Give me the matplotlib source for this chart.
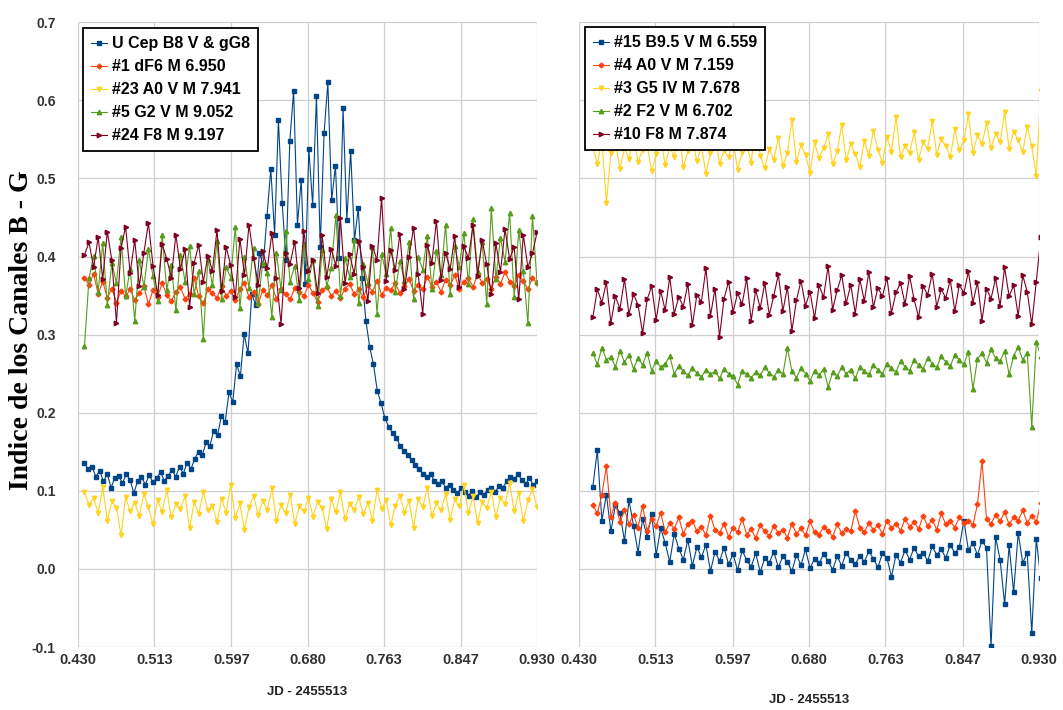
import numpy as np
import matplotlib
matplotlib.use("Agg")
import matplotlib.pyplot as plt

plt.rcParams['font.family'] = ['Liberation Sans', 'DejaVu Sans']

# time range of each night (JD - 2455513)
left_start, left_end = 0.437, 0.930
right_start, right_end = 0.445, 0.932

xticks = [0.430, 0.513, 0.597, 0.680, 0.763, 0.847, 0.930]
xtick_labels = ["0.430", "0.513", "0.597", "0.680", "0.763", "0.847", "0.930"]
yticks = [-0.1, 0.0, 0.1, 0.2, 0.3, 0.4, 0.5, 0.6, 0.7]

# Left panel: U Cep and comparison stars
left_labels = ["U Cep B8 V & gG8", "#1 dF6 M 6.950", "#23 A0 V M 7.941",
               "#5 G2 V M 9.052", "#24 F8 M 9.197"]

ucep = [0.135, 0.128, 0.131, 0.118, 0.126, 0.112, 0.122, 0.104, 0.117, 0.119,
        0.110, 0.121, 0.114, 0.097, 0.113, 0.118, 0.108, 0.120, 0.111, 0.116,
        0.124, 0.113, 0.119, 0.127, 0.118, 0.131, 0.122, 0.136, 0.128, 0.141,
        0.150, 0.146, 0.162, 0.158, 0.177, 0.171, 0.196, 0.188, 0.226, 0.214,
        0.262, 0.247, 0.301, 0.276, 0.352, 0.338, 0.405, 0.389, 0.452, 0.512,
        0.428, 0.575, 0.468, 0.395, 0.548, 0.612, 0.441, 0.498, 0.365, 0.538,
        0.466, 0.605, 0.412, 0.558, 0.623, 0.472, 0.516, 0.398, 0.590, 0.447,
        0.535, 0.421, 0.462, 0.372, 0.318, 0.284, 0.262, 0.228, 0.212, 0.193,
        0.182, 0.174, 0.168, 0.158, 0.151, 0.146, 0.139, 0.133, 0.128, 0.122,
        0.118, 0.121, 0.113, 0.109, 0.112, 0.104, 0.108, 0.101, 0.097, 0.103,
        0.099, 0.094, 0.100, 0.092, 0.098, 0.095, 0.101, 0.103, 0.099, 0.106,
        0.104, 0.112, 0.118, 0.115, 0.121, 0.114, 0.109, 0.116, 0.108, 0.112]

star1 = [0.372, 0.364, 0.378, 0.352, 0.368, 0.347, 0.359, 0.341, 0.356, 0.349,
         0.358, 0.344, 0.353, 0.362, 0.339, 0.357, 0.348, 0.366, 0.351, 0.343,
         0.355, 0.361, 0.346, 0.352, 0.372, 0.349, 0.340, 0.358, 0.353, 0.347,
         0.362, 0.350, 0.356, 0.344, 0.359, 0.366, 0.348, 0.354, 0.339, 0.357,
         0.351, 0.363, 0.346, 0.358, 0.352, 0.345, 0.360, 0.355, 0.349, 0.364,
         0.353, 0.342, 0.357, 0.361, 0.350, 0.356, 0.347, 0.359, 0.365, 0.352,
         0.358, 0.348, 0.363, 0.355, 0.369, 0.351, 0.360, 0.357, 0.366, 0.353,
         0.362, 0.371, 0.356, 0.364, 0.358, 0.374, 0.361, 0.367, 0.355, 0.370,
         0.363, 0.376, 0.359, 0.368, 0.372, 0.361, 0.378, 0.366, 0.371, 0.359,
         0.374, 0.365, 0.380, 0.368, 0.362, 0.376, 0.369, 0.358, 0.373, 0.366]

star23 = [0.098, 0.082, 0.091, 0.071, 0.105, 0.062, 0.087, 0.078, 0.043, 0.092,
          0.074, 0.085, 0.068, 0.096, 0.079, 0.057, 0.088, 0.073, 0.101, 0.066,
          0.083, 0.077, 0.093, 0.052, 0.086, 0.070, 0.099, 0.075, 0.081, 0.060,
          0.090, 0.072, 0.108, 0.065, 0.084, 0.050, 0.079, 0.094, 0.069, 0.087,
          0.076, 0.103, 0.061, 0.082, 0.071, 0.095, 0.058, 0.080, 0.074, 0.091,
          0.067, 0.086, 0.078, 0.051, 0.089, 0.073, 0.098, 0.064, 0.083, 0.076,
          0.092, 0.070, 0.085, 0.062, 0.101, 0.077, 0.088, 0.056, 0.081, 0.094,
          0.072, 0.087, 0.053, 0.090, 0.079, 0.104, 0.068, 0.084, 0.075, 0.096,
          0.063, 0.089, 0.080, 0.107, 0.071, 0.093, 0.059, 0.086, 0.078, 0.099,
          0.066, 0.091, 0.083, 0.110, 0.074, 0.097, 0.061, 0.088, 0.102, 0.079]

star5 = [0.285, 0.372, 0.401, 0.355, 0.417, 0.338, 0.392, 0.366, 0.425, 0.349,
         0.384, 0.318, 0.396, 0.361, 0.409, 0.375, 0.343, 0.428, 0.357, 0.389,
         0.331, 0.402, 0.368, 0.414, 0.352, 0.381, 0.295, 0.397, 0.363, 0.420,
         0.346, 0.386, 0.373, 0.438, 0.334, 0.399, 0.360, 0.411, 0.341, 0.392,
         0.379, 0.323, 0.405, 0.357, 0.433, 0.368, 0.388, 0.344, 0.416, 0.371,
         0.395, 0.337, 0.408, 0.362, 0.385, 0.453, 0.350, 0.398, 0.374, 0.421,
         0.340, 0.390, 0.366, 0.412, 0.327, 0.403, 0.378, 0.436, 0.355, 0.394,
         0.369, 0.418, 0.345, 0.400, 0.383, 0.426, 0.359, 0.407, 0.376, 0.441,
         0.352, 0.413, 0.387, 0.430, 0.365, 0.448, 0.380, 0.419, 0.339, 0.462,
         0.371, 0.424, 0.393, 0.456, 0.348, 0.434, 0.382, 0.315, 0.452, 0.367]

star24 = [0.402, 0.418, 0.386, 0.425, 0.371, 0.432, 0.395, 0.315, 0.411, 0.438,
          0.379, 0.421, 0.362, 0.405, 0.443, 0.388, 0.351, 0.416, 0.397, 0.373,
          0.428, 0.384, 0.409, 0.336, 0.392, 0.415, 0.367, 0.401, 0.382, 0.434,
          0.356, 0.412, 0.389, 0.348, 0.423, 0.376, 0.441, 0.398, 0.364, 0.407,
          0.385, 0.430, 0.372, 0.314, 0.404, 0.391, 0.419, 0.360, 0.433, 0.381,
          0.396, 0.353, 0.427, 0.374, 0.410, 0.388, 0.449, 0.366, 0.403, 0.378,
          0.420, 0.387, 0.343, 0.414, 0.395, 0.475, 0.369, 0.408, 0.383, 0.429,
          0.358, 0.400, 0.437, 0.377, 0.327, 0.415, 0.392, 0.446, 0.370, 0.405,
          0.384, 0.426, 0.361, 0.413, 0.398, 0.440, 0.375, 0.421, 0.390, 0.352,
          0.417, 0.380, 0.435, 0.397, 0.412, 0.345, 0.428, 0.386, 0.404, 0.431]

# Right panel: other comparison stars
right_labels = ["#15 B9.5 V M 6.559", "#4 A0 V M 7.159", "#3 G5 IV M 7.678",
                "#2 F2 V M 6.702", "#10 F8 M 7.874"]

star15 = [0.105, 0.152, 0.062, 0.095, 0.048, 0.082, 0.071, 0.036, 0.088, 0.055,
          0.021, 0.064, 0.041, 0.070, 0.018, 0.052, 0.033, 0.009, 0.045, 0.026,
          0.012, 0.037, 0.004, 0.028, 0.015, 0.031, -0.003, 0.022, 0.010, 0.027,
          0.006, 0.019, -0.002, 0.024, 0.011, 0.003, 0.020, -0.004, 0.014, 0.008,
          0.022, 0.002, 0.016, 0.009, -0.003, 0.018, 0.005, 0.025, 0.001, 0.013,
          0.007, 0.019, 0.010, -0.001, 0.016, 0.004, 0.021, 0.011, 0.006, 0.017,
          0.009, 0.023, 0.013, 0.002, 0.020, 0.014, -0.010, 0.018, 0.008, 0.024,
          0.012, 0.027, 0.016, 0.021, 0.010, 0.029, 0.018, 0.025, 0.014, 0.031,
          0.020, 0.028, 0.062, 0.024, 0.033, 0.018, 0.036, 0.027, -0.099, 0.041,
          0.012, -0.045, 0.030, -0.030, 0.046, 0.008, 0.020, -0.082, 0.038, -0.012]

star4 = [0.082, 0.071, 0.095, 0.132, 0.067, 0.084, 0.060, 0.075, 0.058, 0.069,
         0.053, 0.081, 0.049, 0.064, 0.055, 0.072, 0.047, 0.059, 0.051, 0.066,
         0.045, 0.057, 0.062, 0.048, 0.054, 0.043, 0.068, 0.050, 0.046, 0.058,
         0.041, 0.053, 0.047, 0.064, 0.044, 0.051, 0.039, 0.056, 0.048, 0.042,
         0.055, 0.046, 0.050, 0.040, 0.058, 0.045, 0.052, 0.043, 0.061, 0.047,
         0.044, 0.054, 0.049, 0.041, 0.057, 0.046, 0.051, 0.048, 0.074, 0.053,
         0.047, 0.059, 0.050, 0.056, 0.045, 0.062, 0.052, 0.058, 0.049, 0.064,
         0.054, 0.060, 0.051, 0.068, 0.055, 0.063, 0.050, 0.071, 0.057, 0.061,
         0.053, 0.066, 0.059, 0.062, 0.056, 0.083, 0.138, 0.064, 0.058, 0.069,
         0.061, 0.073, 0.057, 0.066, 0.062, 0.075, 0.059, 0.068, 0.060, 0.085]

star3 = [0.542, 0.518, 0.551, 0.468, 0.533, 0.547, 0.512, 0.539, 0.525, 0.556,
         0.521, 0.537, 0.544, 0.509, 0.531, 0.553, 0.517, 0.540, 0.528, 0.562,
         0.514, 0.535, 0.549, 0.522, 0.541, 0.506, 0.532, 0.558, 0.519, 0.536,
         0.527, 0.548, 0.511, 0.534, 0.545, 0.520, 0.570, 0.529, 0.513, 0.538,
         0.524, 0.552, 0.516, 0.533, 0.575, 0.521, 0.543, 0.530, 0.507, 0.546,
         0.526, 0.539, 0.557, 0.518, 0.535, 0.569, 0.523, 0.544, 0.531, 0.515,
         0.548, 0.529, 0.561, 0.537, 0.520, 0.553, 0.534, 0.579, 0.527, 0.542,
         0.532, 0.559, 0.524, 0.546, 0.538, 0.574, 0.530, 0.551, 0.541, 0.528,
         0.563, 0.536, 0.549, 0.582, 0.533, 0.555, 0.544, 0.571, 0.539, 0.557,
         0.547, 0.585, 0.538, 0.560, 0.549, 0.534, 0.566, 0.541, 0.503, 0.612]

star2 = [0.276, 0.262, 0.283, 0.268, 0.271, 0.259, 0.279, 0.265, 0.274, 0.256,
         0.270, 0.261, 0.277, 0.254, 0.266, 0.258, 0.263, 0.272, 0.250, 0.260,
         0.253, 0.248, 0.257, 0.251, 0.246, 0.255, 0.249, 0.253, 0.244, 0.256,
         0.250, 0.247, 0.236, 0.254, 0.249, 0.245, 0.252, 0.248, 0.258, 0.251,
         0.246, 0.255, 0.249, 0.283, 0.253, 0.245, 0.257, 0.250, 0.241, 0.254,
         0.248, 0.256, 0.233, 0.252, 0.247, 0.258, 0.250, 0.255, 0.244, 0.259,
         0.253, 0.249, 0.261, 0.255, 0.250, 0.263, 0.257, 0.252, 0.266, 0.259,
         0.254, 0.268, 0.261, 0.256, 0.270, 0.263, 0.258, 0.272, 0.265, 0.260,
         0.274, 0.267, 0.262, 0.278, 0.230, 0.269, 0.276, 0.264, 0.281, 0.270,
         0.266, 0.279, 0.249, 0.273, 0.284, 0.268, 0.277, 0.182, 0.291, 0.272]

star10 = [0.322, 0.358, 0.341, 0.367, 0.315, 0.349, 0.333, 0.371, 0.326, 0.352,
          0.338, 0.302, 0.345, 0.362, 0.319, 0.356, 0.331, 0.374, 0.327, 0.348,
          0.336, 0.365, 0.312, 0.351, 0.342, 0.385, 0.324, 0.359, 0.297, 0.346,
          0.368, 0.329, 0.353, 0.339, 0.372, 0.318, 0.357, 0.334, 0.366, 0.325,
          0.350, 0.377, 0.330, 0.361, 0.305, 0.344, 0.369, 0.337, 0.355, 0.321,
          0.363, 0.348, 0.388, 0.332, 0.357, 0.376, 0.340, 0.364, 0.327, 0.371,
          0.343, 0.380, 0.335, 0.360, 0.349, 0.373, 0.328, 0.354, 0.366, 0.339,
          0.375, 0.345, 0.322, 0.362, 0.351, 0.378, 0.336, 0.358, 0.347, 0.370,
          0.330, 0.364, 0.353, 0.381, 0.341, 0.367, 0.318, 0.359, 0.346, 0.372,
          0.337, 0.386, 0.349, 0.363, 0.324, 0.376, 0.355, 0.313, 0.368, 0.425]

colors = ["#004586", "#ff420e", "#ffd320", "#579d1c", "#7e0021"]
markers = ["s", "D", "v", "^", ">"]
msizes = [3.5, 2.5, 3.2, 3.2, 3.2]

fig = plt.figure(figsize=(10.63, 7.1), dpi=100)
ax1 = fig.add_axes([0.0734, 0.0887, 0.4318, 0.880])
ax2 = fig.add_axes([0.5447, 0.0887, 0.4327, 0.880])


def draw_panel(ax, start, end, series, labels):
    for vals, lab, c, m, ms in zip(series, labels, colors, markers, msizes):
        x = np.linspace(start, end, len(vals))
        ax.plot(x, vals, color=c, lw=0.8, marker=m, ms=ms, mec=c, mfc=c,
                label=lab)
    ax.set_xlim(0.430, 0.930)
    ax.set_ylim(-0.1, 0.7)
    ax.set_xticks(xticks)
    ax.set_xticklabels(xtick_labels)
    ax.set_yticks(yticks)
    ax.grid(True, color="#cfcfcf", lw=0.9)
    ax.set_axisbelow(True)
    for s in ax.spines.values():
        s.set_visible(False)
    ax.tick_params(length=0, labelsize=10.5, labelcolor="#333333", pad=4)
    for t in ax.get_xticklabels() + ax.get_yticklabels():
        t.set_fontweight("bold")
    ax.set_xlabel("JD - 2455513", fontsize=9.5, fontweight="bold",
                  color="#222222", labelpad=14)


draw_panel(ax1, left_start, left_end,
           [ucep, star1, star23, star5, star24], left_labels)
draw_panel(ax2, right_start, right_end,
           [star15, star4, star3, star2, star10], right_labels)

ax1.set_yticklabels(["%.1f" % v for v in yticks])
ax1.tick_params(axis="y", pad=16, labelsize=10)
for t in ax1.get_yticklabels():
    t.set_fontweight("bold")
ax2.tick_params(axis="y", labelleft=False)
ax2.xaxis.labelpad = 20

for ax, anchor in [(ax1, (0.011, 0.99)), (ax2, (0.013, 0.992))]:
    leg = ax.legend(loc="upper left", bbox_to_anchor=anchor, borderaxespad=0,
                    fancybox=False, framealpha=1, edgecolor="black",
                    prop={"weight": "bold", "size": 11.5}, handlelength=1.0,
                    handletextpad=0.3, labelspacing=0.5, borderpad=0.5)
    leg.get_frame().set_linewidth(1.3)

fig.text(0.02, 0.535, "Indice de los Canales B - G", rotation=90,
         ha="center", va="center", fontsize=20, fontweight="bold",
         family="Liberation Serif")

fig.savefig("out.png", dpi=100)
